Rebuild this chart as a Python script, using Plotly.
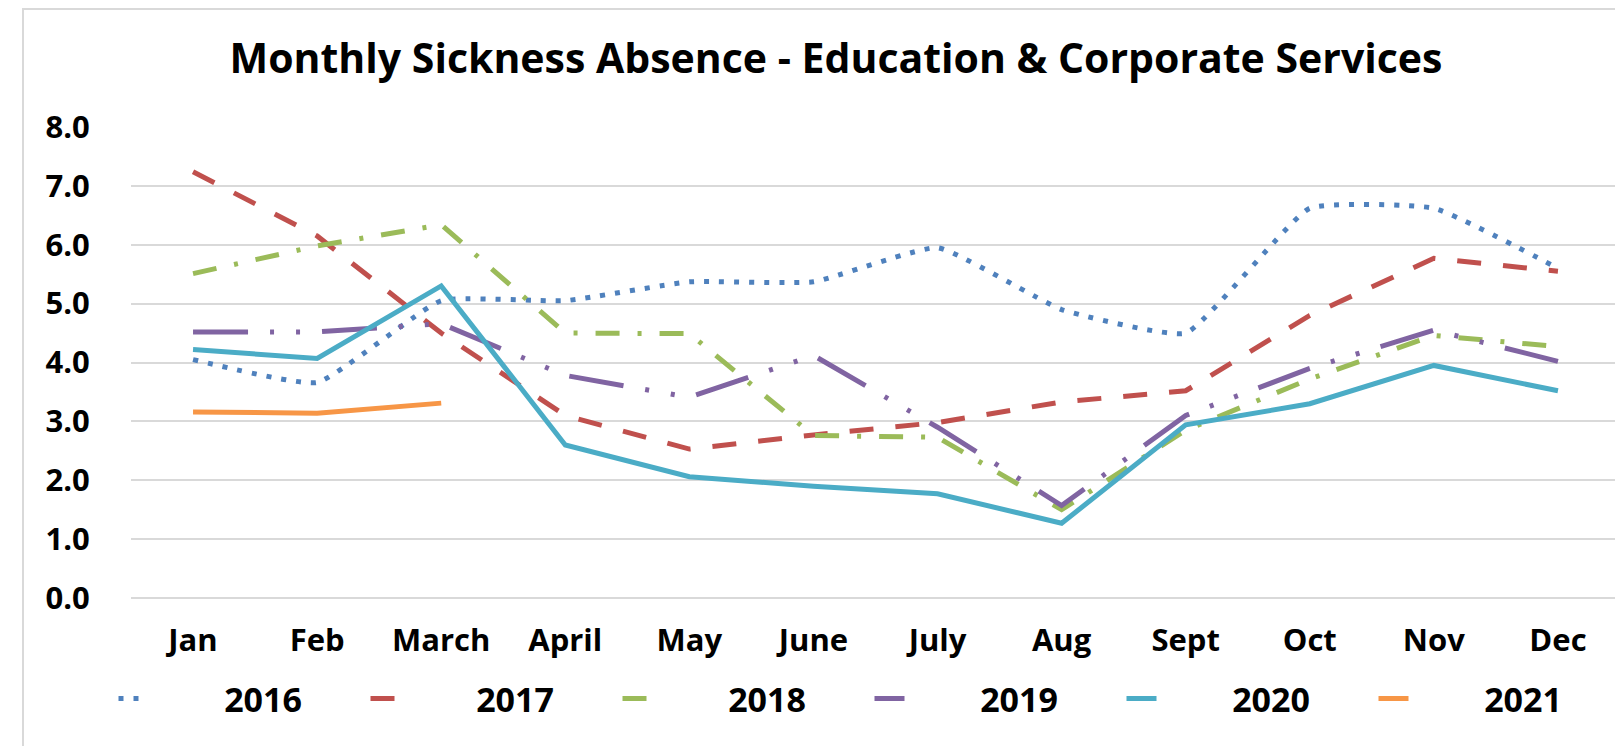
import plotly.graph_objects as go

months = ["Jan", "Feb", "March", "April", "May", "June", "July", "Aug", "Sept", "Oct", "Nov", "Dec"]
y2016 = [4.05, 3.66, 5.05, 5.05, 5.37, 5.37, 5.95, 4.9, 4.5, 6.62, 6.62, 5.6]
y2017 = [7.24, 6.15, 4.5, 3.1, 2.53, 2.77, 2.98, 3.33, 3.52, 4.8, 5.77, 5.55]
y2018 = [5.51, 5.98, 6.34, 4.5, 4.49, 2.76, 2.73, 1.5, 2.85, 3.72, 4.46, 4.27]
y2019 = [4.52, 4.52, 4.66, 3.78, 3.41, 4.12, 2.9, 1.57, 3.1, 3.9, 4.55, 4.02]
y2020 = [4.22, 4.07, 5.3, 2.6, 2.06, 1.9, 1.77, 1.27, 2.94, 3.3, 3.95, 3.52]
y2021 = [3.16, 3.14, 3.31]

FONT = "Open Sans"

series = [
    ("2016", y2016, "#4F81BD", "5px,10px", "spline"),
    ("2017", y2017, "#C0504D", "24px,22px", "linear"),
    ("2018", y2018, "#9BBB59", "24px,18px,4px,18px", "linear"),
    ("2019", y2019, "#8064A2", "55px,22px,4px,22px,4px,22px", "linear"),
    ("2020", y2020, "#4BACC6", "solid", "linear"),
    ("2021", y2021, "#F79646", "solid", "linear"),
]

fig = go.Figure()
for name, vals, color, dash, shape in series:
    fig.add_trace(go.Scatter(
        x=months[:len(vals)], y=vals, mode="lines",
        name="\u00a0" * 8 + "<b>%s</b>" % name,
        line=dict(color=color, width=5, dash=dash, shape=shape, smoothing=0.4),
    ))

W, H = 1623, 746
L, R, T, B = 100, 0, 119, 156
GW, PH = W - L - R, H - T - B
PL, PR = 123, 1612  # plot area edges in pixels

fig.update_layout(
    width=W, height=H,
    paper_bgcolor="white", plot_bgcolor="white",
    margin=dict(l=L, r=R, t=T, b=B),
    title=dict(text="<b>Monthly Sickness Absence - Education & Corporate Services</b>",
               x=828 / W, xanchor="center", y=1 - 51 / H, yanchor="middle",
               font=dict(family=FONT, size=41, color="#000000")),
    font=dict(family=FONT, color="#000000"),
    xaxis=dict(type="category", categoryorder="array", categoryarray=months,
               domain=[(PL - L) / GW, (PR - L) / GW],
               range=[-0.5, 11.5], showgrid=False, showline=False,
               ticks="outside", ticklen=15, tickcolor="rgba(0,0,0,0)",
               tickvals=months, ticktext=["<b>%s</b>" % m for m in months],
               tickfont=dict(family=FONT, size=31, color="#000000")),
    yaxis=dict(range=[0, 8], dtick=1, tickformat=".1f", showgrid=True,
               tickprefix="<b>", ticksuffix="</b>",
               gridcolor="#D9D9D9", gridwidth=2, zeroline=True, zerolinecolor="#D9D9D9",
               zerolinewidth=2, showline=False,
               ticks="outside", ticklen=34, tickcolor="rgba(0,0,0,0)",
               tickfont=dict(family=FONT, size=31, color="#000000")),
    legend=dict(orientation="h", x=0.5, xanchor="center",
                y=-(697 - 596) / PH, yanchor="middle",
                font=dict(family=FONT, size=34, color="#000000"),
                entrywidth=207, entrywidthmode="pixels", itemwidth=30),
    showlegend=True,
)
fig.add_shape(type="rect", xref="paper", yref="paper",
              x0=(15 - L) / GW, x1=1 + 20 / GW, y0=-(B + 10) / PH, y1=1 + (T - 1) / PH,
              line=dict(color="#D9D9D9", width=2))

fig.write_html("out.html")
